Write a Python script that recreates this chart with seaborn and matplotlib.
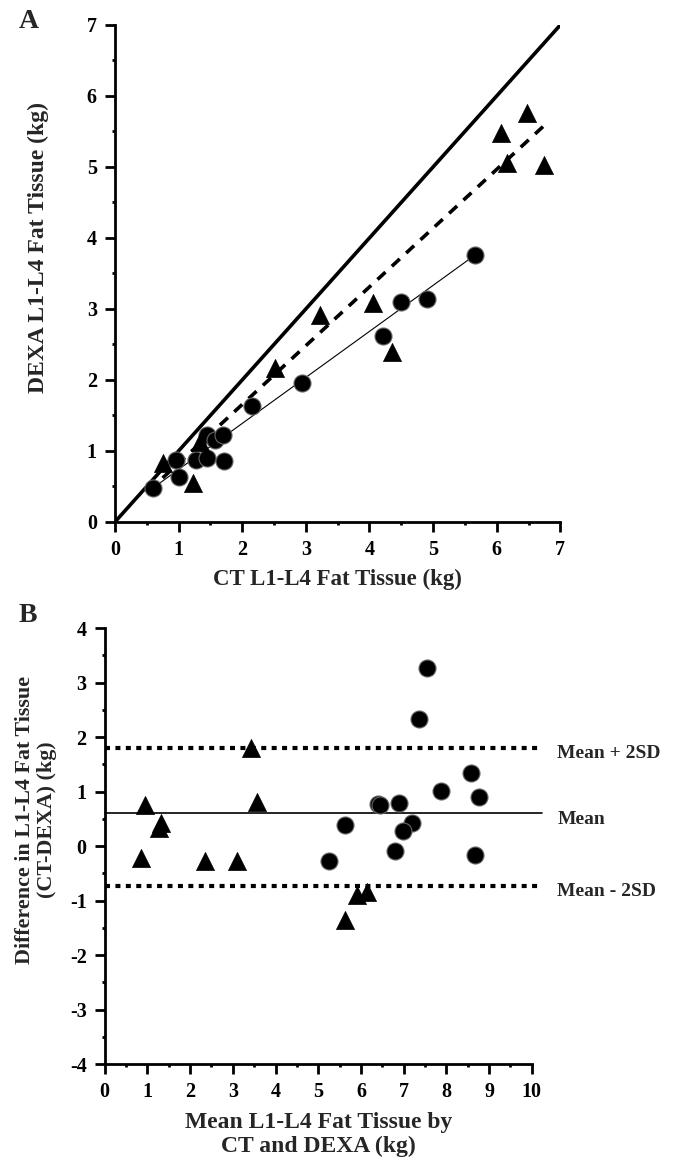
import numpy as np
import pandas as pd
import matplotlib
matplotlib.use("Agg")
import matplotlib.pyplot as plt
from matplotlib.ticker import MultipleLocator
import seaborn as sns

# === Data: panel A (CT vs DEXA) ===
a_circ_ct = [0.60, 0.96, 1.01, 1.27, 1.45, 1.71, 1.44, 1.57, 1.70, 2.15, 2.94, 4.21, 4.50, 4.90, 5.66]
a_circ_dexa = [0.48, 0.87, 0.63, 0.87, 0.90, 0.86, 1.22, 1.15, 1.22, 1.63, 1.96, 2.62, 3.10, 3.14, 3.76]
a_tri_ct = [0.75, 1.23, 1.34, 2.52, 3.22, 4.05, 4.36, 6.07, 6.16, 6.48, 6.75]
a_tri_dexa = [0.83, 0.55, 1.13, 2.17, 2.92, 3.08, 2.40, 5.48, 5.06, 5.76, 5.03]

identity_x = [0, 7]
circ_fit_x = [0.60, 5.66]
circ_fit_y = [0.48, 3.76]
tri_fit_x = [0.75, 6.73]
tri_fit_y = [0.62, 5.57]

# === Data: panel B (Bland-Altman) ===
b_circ_mean = [7.54, 7.36, 8.57, 7.87, 8.76, 6.39, 6.45, 6.88, 5.62, 7.19, 6.98, 6.79, 8.67, 5.25]
b_circ_diff = [3.27, 2.33, 1.34, 1.01, 0.90, 0.77, 0.75, 0.79, 0.39, 0.43, 0.28, -0.09, -0.16, -0.27]
b_tri_mean = [0.94, 1.31, 1.27, 0.84, 2.34, 3.09, 3.42, 3.56, 5.90, 6.14, 5.62]
b_tri_diff = [0.75, 0.42, 0.33, -0.22, -0.27, -0.27, 1.80, 0.81, -0.90, -0.84, -1.36]

bias = 0.60
upper_loa = 1.80
lower_loa = -0.73
ref_labels = ["Mean + 2SD", "Mean", "Mean - 2SD"]

sns.set_style("ticks")
plt.rcParams['font.family'] = ['Liberation Serif', 'DejaVu Serif']
plt.rcParams['font.weight'] = 'bold'
plt.rcParams['axes.unicode_minus'] = False

fig = plt.figure(figsize=(6.8, 11.61), dpi=100)
ax1 = fig.add_axes([0.169, 0.5504, 0.655, 0.4281])
ax2 = fig.add_axes([0.154, 0.0835, 0.628, 0.3755])


def style_axis(ax):
    for side in ["top", "right"]:
        ax.spines[side].set_visible(False)
    for side in ["left", "bottom"]:
        ax.spines[side].set_linewidth(2)
        ax.spines[side].set_color("black")
    ax.tick_params(which="major", direction="out", length=7, width=2, labelsize=14.5,
                   colors="black", pad=6)
    ax.tick_params(which="minor", direction="out", length=2.5, width=2, colors="black")
    for lab in ax.get_xticklabels() + ax.get_yticklabels():
        lab.set_fontweight("bold")


circ_kw = dict(marker="o", s=150, color="black", edgecolor="#666666", linewidth=0.8, zorder=3, legend=False)
tri_kw = dict(marker="^", s=170, color="black", edgecolor="black", linewidth=0.5, zorder=3, legend=False)

# --- Panel A ---
sns.lineplot(x=identity_x, y=identity_x, ax=ax1, color="black", linewidth=2.6, zorder=2)
sns.lineplot(x=circ_fit_x, y=circ_fit_y, ax=ax1, color="black", linewidth=0.8, zorder=2)
ax1.plot(tri_fit_x, tri_fit_y, color="black", linewidth=2.6, dashes=(3, 2.4), zorder=2)
sns.scatterplot(x=a_circ_ct, y=a_circ_dexa, ax=ax1, **circ_kw)
sns.scatterplot(x=a_tri_ct, y=a_tri_dexa, ax=ax1, **tri_kw)
ax1.set_xlim(0, 7)
ax1.set_ylim(0, 7)
ax1.xaxis.set_major_locator(MultipleLocator(1))
ax1.yaxis.set_major_locator(MultipleLocator(1))
ax1.xaxis.set_minor_locator(MultipleLocator(0.5))
ax1.yaxis.set_minor_locator(MultipleLocator(0.5))
ax1.set_xlabel("CT L1-L4 Fat Tissue (kg)", fontsize=16.5, fontweight="bold", labelpad=6)
ax1.set_ylabel("DEXA L1-L4 Fat Tissue (kg)", fontsize=17, fontweight="bold")
ax1.yaxis.set_label_coords(-0.148, 0.553)
style_axis(ax1)
fig.text(0.028, 0.992, "A", fontsize=20, fontweight="bold", va="top")

# --- Panel B ---
for yv, lab, ls in zip([upper_loa, bias, lower_loa], ref_labels, ["dot", "solid", "dot"]):
    if ls == "solid":
        ax2.plot([0, 10.25], [yv, yv], color="black", linewidth=1.2, clip_on=False, zorder=2)
    else:
        ax2.plot([0, 10.25], [yv, yv], color="black", linewidth=3, dashes=(1.2, 1.3), clip_on=False, zorder=2)
    ax2.text(10.6, yv - 0.11, lab, fontsize=14, fontweight="bold", va="center", ha="left")
sns.scatterplot(x=b_circ_mean, y=b_circ_diff, ax=ax2, **circ_kw)
sns.scatterplot(x=b_tri_mean, y=b_tri_diff, ax=ax2, **tri_kw)
ax2.set_xlim(0, 10)
ax2.set_ylim(-4, 4)
ax2.xaxis.set_major_locator(MultipleLocator(1))
ax2.yaxis.set_major_locator(MultipleLocator(1))
ax2.xaxis.set_minor_locator(MultipleLocator(0.5))
ax2.yaxis.set_minor_locator(MultipleLocator(0.5))
ax2.set_xlabel("Mean L1-L4 Fat Tissue by\nCT and DEXA (kg)", fontsize=17, fontweight="bold",
               linespacing=1.2, labelpad=7)
ax2.set_ylabel("Difference in L1-L4 Fat Tissue\n(CT-DEXA) (kg)", fontsize=15.8, fontweight="bold",
               linespacing=1.15)
ax2.yaxis.set_label_coords(-0.112, 0.56)
style_axis(ax2)
fig.text(0.028, 0.481, "B", fontsize=20, fontweight="bold", va="top")

fig.savefig("out.png", dpi=100)
